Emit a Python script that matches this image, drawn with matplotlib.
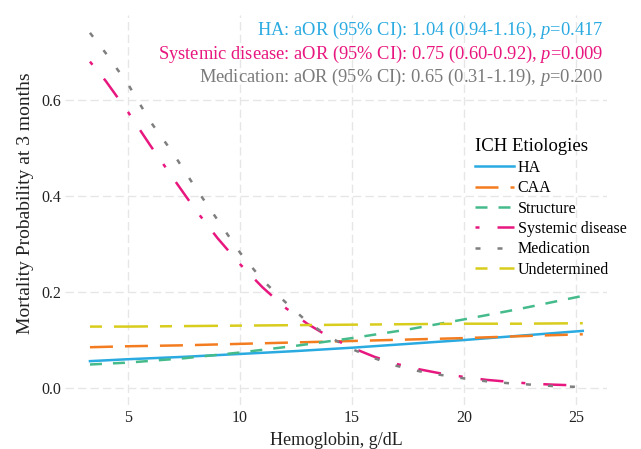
import matplotlib as mpl
import matplotlib.pyplot as plt
from matplotlib.lines import Line2D

# ------------------------------------------------------------
# DATA
# ------------------------------------------------------------

hb_coarse = [3.3, 5, 7.5, 10, 12.5, 15, 17.5, 20, 22.5, 25.3]
hb_fine = [3.3, 4, 5, 6, 7, 8, 9, 10, 11, 12, 13, 14, 15, 16, 17,
           18, 19, 20, 21, 22, 23, 24, 25.3]

p_ha = [0.056, 0.060, 0.065, 0.071, 0.077, 0.084, 0.092, 0.100, 0.109, 0.119]
p_caa = [0.085, 0.087, 0.089, 0.092, 0.095, 0.098, 0.101, 0.104, 0.108, 0.112]
p_structure = [0.049, 0.053, 0.062, 0.074, 0.088, 0.104, 0.122, 0.143, 0.165, 0.192]
p_undetermined = [0.128, 0.128, 0.129, 0.130, 0.131, 0.132, 0.133, 0.134, 0.134, 0.135]

p_systemic = [0.680, 0.640, 0.575, 0.505, 0.438, 0.372, 0.312, 0.258, 0.210,
              0.168, 0.134, 0.106, 0.084, 0.065, 0.050, 0.039, 0.030, 0.023,
              0.017, 0.013, 0.009, 0.007, 0.005]
p_medication = [0.740, 0.698, 0.633, 0.555, 0.490, 0.418, 0.350, 0.282, 0.225,
                0.180, 0.138, 0.106, 0.081, 0.062, 0.046, 0.035, 0.027, 0.020,
                0.014, 0.010, 0.007, 0.004, 0.002]

x_ticks = [5, 10, 15, 20, 25]
y_ticks = [0.0, 0.2, 0.4, 0.6]

notes = [
    ("HA: aOR (95% CI): 1.04 (0.94-1.16), $\\mathit{p}$=0.417", "#29aae1"),
    ("Systemic disease: aOR (95% CI): 0.75 (0.60-0.92), $\\mathit{p}$=0.009", "#e8177f"),
    ("Medication: aOR (95% CI): 0.65 (0.31-1.19), $\\mathit{p}$=0.200", "#7a7a7a"),
]

# ------------------------------------------------------------
# STYLE
# ------------------------------------------------------------

mpl.rcParams.update({
    "font.family": "Liberation Serif",
    "mathtext.fontset": "custom",
    "mathtext.rm": "Liberation Serif",
    "mathtext.it": "Liberation Serif:italic",
    "axes.spines.top": False,
    "axes.spines.right": False,
    "axes.spines.left": False,
    "axes.spines.bottom": False,
})

col_ha = "#29aae1"
col_caa = "#f47c20"
col_str = "#45bb8c"
col_sys = "#e8177f"
col_med = "#7f7f7f"
col_und = "#d8cc1c"
grid_col = "#e6e6e6"
LW = 1.8

series = [
    ("HA", hb_coarse, p_ha, col_ha, "-"),
    ("CAA", hb_coarse, p_caa, col_caa, (0, (9.2, 4.8))),
    ("Structure", hb_coarse, p_structure, col_str, (0, (4.8, 4.4))),
    ("Systemic disease", hb_fine, p_systemic, col_sys, (0, (1.6, 7.2, 9.2, 7.2))),
    ("Medication", hb_fine, p_medication, col_med, (0, (2.0, 6.8))),
    ("Undetermined", hb_coarse, p_undetermined, col_und, (0, (4.8, 4.8, 13.6, 4.8))),
]

# ------------------------------------------------------------
# PLOT
# ------------------------------------------------------------

fig = plt.figure(figsize=(6.41, 4.49), dpi=100)
fig.patch.set_facecolor("white")
ax = fig.add_axes([0.1019, 0.0984, 0.8457, 0.868])

for xv in x_ticks:
    ax.axvline(xv, color=grid_col, lw=1.0, ls=(0, (6, 3)), zorder=0)
for yv in y_ticks:
    ax.axhline(yv, color=grid_col, lw=1.0, ls=(0, (6, 3)), zorder=0)

handles = []
for name, xs, ys, col, ls in series:
    ax.plot(xs, ys, color=col, lw=LW, ls=ls, zorder=3)
    handles.append(Line2D([], [], color=col, lw=LW, ls=ls, label=name))

ax.set_xlim(2.2, 26.4)
ax.set_ylim(-0.035, 0.777)
ax.set_xticks(x_ticks)
ax.set_yticks(y_ticks)
ax.set_yticklabels([f"{v:.1f}" for v in y_ticks])
ax.tick_params(length=0, labelsize=11.5, labelcolor="#222222")
ax.tick_params(axis="x", pad=4)
ax.tick_params(axis="y", pad=3)

ax.set_xlabel("Hemoglobin, g/dL", fontsize=13, color="#222222", labelpad=4)
ax.set_ylabel("Mortality Probability at 3 months", fontsize=14, color="#222222",
              va="center")
ax.yaxis.set_label_coords(-0.073, 0.518)

note_y = [30, 54, 77]
for (txt, col), yp in zip(notes, note_y):
    fig.text(0.9407, 1 - yp / 449, txt, color=col, fontsize=13.3,
             ha="right", va="center")

leg = ax.legend(handles=handles, title="ICH Etiologies", loc="upper left",
                bbox_to_anchor=(0.729, 0.7095), bbox_transform=fig.transFigure,
                frameon=False, fontsize=11.5, title_fontsize=13.5,
                handlelength=2.4, handletextpad=0.25, labelspacing=0.275,
                borderpad=0, alignment="left")

fig.savefig("out.png", dpi=100)
